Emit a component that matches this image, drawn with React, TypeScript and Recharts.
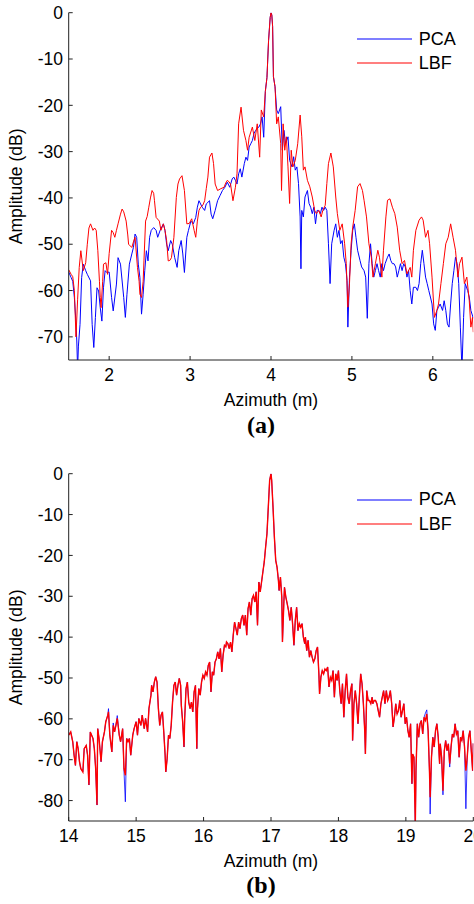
import React from 'react';
import { LineChart, Line, XAxis, YAxis, Legend } from 'recharts';

// ---------- panel (a) ----------
const PCA_A_AZ = [
  1.50, 1.53, 1.55, 1.57, 1.59, 1.60, 1.61, 1.62, 1.64, 1.66,
  1.68, 1.71, 1.73, 1.77, 1.79, 1.81, 1.83, 1.85, 1.87, 1.89,
  1.91, 1.93, 1.95, 1.97, 2.00, 2.03, 2.05, 2.09, 2.11, 2.14,
  2.18, 2.20, 2.22, 2.25, 2.28, 2.30, 2.32, 2.34, 2.36, 2.38,
  2.40, 2.42, 2.44, 2.46, 2.48, 2.50, 2.52, 2.55, 2.58, 2.60,
  2.63, 2.67, 2.69, 2.71, 2.73, 2.76, 2.78, 2.81, 2.84, 2.86,
  2.89, 2.91, 2.93, 2.96, 2.98, 3.01, 3.04, 3.07, 3.09, 3.11,
  3.15, 3.18, 3.20, 3.24, 3.26, 3.28, 3.31, 3.34, 3.37, 3.40,
  3.43, 3.46, 3.49, 3.52, 3.54, 3.56, 3.58, 3.60, 3.62, 3.64,
  3.67, 3.69, 3.71, 3.73, 3.75, 3.77, 3.79, 3.81, 3.83, 3.85,
  3.87, 3.89, 3.91, 3.93, 3.95, 3.97, 3.99, 4.00, 4.01, 4.02,
  4.03, 4.05, 4.07, 4.09, 4.12, 4.14, 4.16, 4.18, 4.21, 4.23,
  4.26, 4.28, 4.30, 4.32, 4.34, 4.36, 4.37, 4.38, 4.40, 4.42,
  4.45, 4.47, 4.49, 4.51, 4.53, 4.55, 4.57, 4.59, 4.61, 4.63,
  4.65, 4.67, 4.69, 4.71, 4.73, 4.75, 4.78, 4.80, 4.82, 4.84,
  4.86, 4.88, 4.90, 4.92, 4.94, 4.95, 4.97, 4.99, 5.01, 5.03,
  5.05, 5.07, 5.10, 5.12, 5.15, 5.17, 5.19, 5.21, 5.23, 5.25,
  5.27, 5.29, 5.31, 5.33, 5.35, 5.37, 5.39, 5.41, 5.44, 5.46,
  5.48, 5.50, 5.52, 5.54, 5.56, 5.58, 5.60, 5.62, 5.64, 5.66,
  5.68, 5.70, 5.72, 5.74, 5.76, 5.79, 5.81, 5.83, 5.85, 5.87,
  5.89, 5.91, 5.93, 5.95, 5.97, 5.99, 6.01, 6.03, 6.05, 6.07,
  6.09, 6.12, 6.14, 6.16, 6.18, 6.20, 6.22, 6.24, 6.26, 6.28,
  6.30, 6.32, 6.34, 6.36, 6.38, 6.40, 6.43, 6.45, 6.47, 6.50,
];
const PCA_A_DB = [
  -56, -57.2, -58, -61.5, -67, -70.9, -77, -72, -67.3, -57.2,
  -54.3, -55.7, -56.5, -57.9, -67.3, -72.3, -65.8, -59.4, -60.1, -63.7,
  -66.6, -59.4, -55.7, -56.1, -56, -61.5, -64.4, -58.6, -52.9, -54.3,
  -61.5, -65.8, -60.8, -54.3, -52.1, -50.7, -47.8, -48.5, -54.3, -57.2,
  -65.1, -60.8, -55.7, -51.4, -53.6, -48.5, -47, -46.4, -47, -48.5,
  -47, -45.6, -47, -50, -51.4, -49.2, -50, -52.9, -55, -51.4,
  -49.2, -52.1, -56.1, -48.5, -47, -45, -45.6, -44.2, -42, -40.6,
  -42, -42.7, -41.3, -40.6, -43.5, -44.5, -42.7, -40.6, -39.5, -38.4,
  -37.7, -36.6, -37.7, -35.9, -35.5, -36.2, -37, -34.8, -33.7, -35.5,
  -32.6, -31.2, -31.9, -29, -28.3, -27.6, -26.1, -25.4, -25, -24.7,
  -24, -22.5, -26.9, -17, -14, -6, -1, 0, -0.5, -3,
  -13.8, -16, -21, -21.8, -20.3, -29.7, -25.4, -28.3, -26.8, -31.9,
  -33.3, -31.1, -34, -33.3, -36.9, -44.1, -55.3, -42.7, -44.1, -39.8,
  -38.4, -41.2, -42, -43.4, -42, -45.6, -42.7, -42.7, -43.4, -42,
  -42.7, -42, -42.7, -49.9, -58.5, -49.9, -47, -45.6, -48.5, -47,
  -49.9, -49.2, -52.8, -54.2, -57.8, -67.9, -57.1, -51.3, -47, -45.6,
  -48.5, -51.3, -53.5, -54.9, -55.7, -57.1, -66, -54.2, -49.9, -54.2,
  -57.1, -55.7, -54.2, -55.7, -57.1, -54.2, -55.7, -54.2, -52.8, -52.1,
  -53.5, -54.2, -54.2, -54.9, -57.1, -55.7, -54.2, -55.7, -54.2, -54.9,
  -57.1, -55.7, -60, -62.9, -59.3, -59.3, -60, -58.5, -54.2, -51.3,
  -54.2, -57.1, -58.5, -60, -61.4, -62.9, -67.2, -68.6, -64.3, -63.6,
  -62.9, -64.3, -62.2, -64.3, -67.2, -67.9, -62.9, -58.5, -55.7, -52.8,
  -54.2, -58.5, -67.9, -77, -65.8, -58.5, -60, -61.4, -64.3, -66,
];
const LBF_A_AZ = [
  1.50, 1.53, 1.55, 1.57, 1.59, 1.61, 1.63, 1.65, 1.68, 1.71,
  1.73, 1.75, 1.77, 1.80, 1.82, 1.84, 1.86, 1.88, 1.89, 1.90,
  1.92, 1.93, 1.96, 1.98, 2.00, 2.03, 2.05, 2.07, 2.09, 2.11,
  2.14, 2.16, 2.18, 2.21, 2.23, 2.24, 2.28, 2.30, 2.32, 2.35,
  2.37, 2.38, 2.40, 2.42, 2.43, 2.45, 2.47, 2.49, 2.51, 2.53,
  2.55, 2.56, 2.58, 2.62, 2.64, 2.67, 2.69, 2.71, 2.73, 2.75,
  2.77, 2.80, 2.83, 2.85, 2.87, 2.90, 2.93, 2.96, 2.99, 3.02,
  3.05, 3.07, 3.09, 3.11, 3.13, 3.16, 3.18, 3.20, 3.22, 3.24,
  3.27, 3.29, 3.31, 3.34, 3.38, 3.42, 3.44, 3.46, 3.48, 3.50,
  3.53, 3.56, 3.58, 3.60, 3.63, 3.66, 3.69, 3.71, 3.73, 3.77,
  3.80, 3.83, 3.86, 3.88, 3.91, 3.93, 3.95, 3.97, 3.99, 4.00,
  4.01, 4.02, 4.03, 4.05, 4.07, 4.09, 4.12, 4.13, 4.15, 4.17,
  4.19, 4.21, 4.23, 4.25, 4.27, 4.30, 4.33, 4.36, 4.38, 4.40,
  4.42, 4.45, 4.48, 4.51, 4.54, 4.56, 4.59, 4.62, 4.64, 4.67,
  4.69, 4.71, 4.74, 4.77, 4.80, 4.82, 4.85, 4.88, 4.91, 4.93,
  4.95, 4.97, 4.99, 5.01, 5.04, 5.07, 5.10, 5.13, 5.15, 5.18,
  5.21, 5.24, 5.26, 5.29, 5.32, 5.34, 5.37, 5.39, 5.42, 5.44,
  5.47, 5.50, 5.53, 5.56, 5.59, 5.62, 5.65, 5.68, 5.72, 5.74,
  5.76, 5.79, 5.83, 5.86, 5.88, 5.91, 5.94, 5.96, 5.99, 6.02,
  6.05, 6.07, 6.10, 6.13, 6.16, 6.19, 6.22, 6.25, 6.28, 6.31,
  6.33, 6.36, 6.39, 6.42, 6.45, 6.47, 6.49, 6.50,
];
const LBF_A_DB = [
  -55.5, -56.5, -57, -60, -70, -62, -55, -51.4, -55.7, -54,
  -50, -46.5, -45.6, -47, -46.5, -47, -51.4, -58, -61.5, -63.7,
  -58, -54.3, -54, -56.5, -52, -47, -47.5, -48.5, -47, -45.6,
  -43.5, -42.4, -43, -45, -48, -50, -50.7, -49.5, -48.5, -55,
  -58, -60.8, -61.5, -58, -53.6, -45, -44, -42, -40, -38.4,
  -39, -40.6, -44.2, -45, -47, -45.6, -47, -49.2, -53.6, -53.5,
  -52.9, -48.5, -39.9, -37, -35.9, -35.2, -38.4, -45.6, -45.5, -44.5,
  -47, -48.5, -45, -42.7, -42, -41.5, -40.6, -38, -35.5, -31.2,
  -30.3, -32.6, -37, -38.4, -38, -37.7, -36.8, -36.2, -36.5, -37,
  -40.6, -37.7, -34.8, -24, -20.4, -25.4, -27.6, -29.7, -26.9, -24.7,
  -27.6, -24, -31.2, -21, -22.5, -17, -14, -6, -1, 0,
  -0.5, -3, -13.8, -16, -24, -22.5, -28.3, -38.4, -24, -29.7,
  -26.8, -33.3, -41.2, -29.7, -33.3, -31.9, -28.3, -22.1, -26.8, -34,
  -33.3, -36.2, -37.6, -39.8, -42.7, -43.4, -42.7, -44.1, -42.7, -41.6,
  -36.9, -32.6, -30.3, -33.3, -39.8, -43.4, -47, -45.6, -49.9, -54.2,
  -63.6, -58.5, -49.9, -46.3, -42.7, -37.6, -36.9, -38.4, -40.5, -44.1,
  -49.9, -52.8, -57.1, -54.2, -51.3, -52.8, -57.1, -51.3, -44.1, -40.5,
  -40.2, -42, -43.4, -46.3, -51.3, -54.2, -53.5, -56.4, -55, -57.1,
  -51.3, -47, -44.8, -44.1, -44.8, -48.5, -47, -49.9, -57.1, -65.8,
  -64.3, -62.9, -58.5, -54.2, -49.9, -48.5, -45.6, -48.5, -51.3, -57.1,
  -54.2, -52.8, -58.5, -57.1, -62.2, -67.9, -65.8, -69,
];

// ---------- panel (b) ----------
const B_AZ = [
  14.00, 14.03, 14.06, 14.08, 14.10, 14.12, 14.14, 14.16, 14.18, 14.21,
  14.23, 14.26, 14.28, 14.30, 14.32, 14.34, 14.36, 14.38, 14.40, 14.42,
  14.43, 14.45, 14.48, 14.50, 14.53, 14.55, 14.58, 14.59, 14.61, 14.64,
  14.66, 14.68, 14.70, 14.72, 14.75, 14.77, 14.80, 14.82, 14.84, 14.86,
  14.88, 14.90, 14.92, 14.95, 14.97, 15.00, 15.02, 15.04, 15.07, 15.09,
  15.12, 15.14, 15.17, 15.19, 15.22, 15.23, 15.25, 15.27, 15.29, 15.31,
  15.33, 15.35, 15.37, 15.39, 15.41, 15.43, 15.44, 15.46, 15.48, 15.50,
  15.52, 15.54, 15.56, 15.58, 15.60, 15.62, 15.64, 15.66, 15.67, 15.69,
  15.71, 15.72, 15.74, 15.76, 15.78, 15.80, 15.82, 15.84, 15.86, 15.88,
  15.90, 15.91, 15.93, 15.95, 15.97, 15.99, 16.01, 16.03, 16.05, 16.07,
  16.09, 16.11, 16.13, 16.15, 16.17, 16.19, 16.21, 16.23, 16.25, 16.27,
  16.29, 16.31, 16.33, 16.34, 16.36, 16.38, 16.40, 16.42, 16.44, 16.46,
  16.48, 16.50, 16.52, 16.54, 16.56, 16.58, 16.60, 16.62, 16.64, 16.66,
  16.68, 16.70, 16.72, 16.74, 16.76, 16.78, 16.80, 16.82, 16.84, 16.86,
  16.88, 16.90, 16.92, 16.94, 16.96, 16.98, 17.00, 17.01, 17.03, 17.05,
  17.07, 17.09, 17.11, 17.12, 17.14, 17.16, 17.17, 17.19, 17.20, 17.22,
  17.24, 17.26, 17.28, 17.30, 17.32, 17.34, 17.36, 17.38, 17.40, 17.42,
  17.44, 17.46, 17.48, 17.50, 17.51, 17.53, 17.55, 17.57, 17.59, 17.61,
  17.63, 17.65, 17.67, 17.69, 17.71, 17.72, 17.74, 17.76, 17.78, 17.80,
  17.82, 17.84, 17.86, 17.88, 17.90, 17.92, 17.94, 17.96, 17.98, 18.00,
  18.02, 18.04, 18.06, 18.08, 18.10, 18.12, 18.14, 18.16, 18.18, 18.20,
  18.21, 18.23, 18.25, 18.27, 18.29, 18.31, 18.33, 18.35, 18.37, 18.39,
  18.40, 18.42, 18.44, 18.46, 18.48, 18.50, 18.51, 18.53, 18.55, 18.57,
  18.59, 18.61, 18.63, 18.65, 18.67, 18.69, 18.71, 18.73, 18.75, 18.77,
  18.79, 18.81, 18.83, 18.85, 18.87, 18.89, 18.91, 18.93, 18.95, 18.97,
  18.99, 19.01, 19.03, 19.05, 19.07, 19.09, 19.10, 19.12, 19.14, 19.15,
  19.17, 19.19, 19.21, 19.23, 19.25, 19.27, 19.29, 19.31, 19.33, 19.35,
  19.36, 19.38, 19.40, 19.42, 19.44, 19.46, 19.48, 19.50, 19.51, 19.53,
  19.55, 19.57, 19.59, 19.61, 19.63, 19.65, 19.67, 19.69, 19.71, 19.73,
  19.75, 19.77, 19.79, 19.81, 19.83, 19.85, 19.87, 19.89, 19.91, 19.93,
  19.95, 19.97, 19.99, 20.00,
];
const LBF_B_DB = [
  -64, -63.2, -65.6, -68.9, -71.4, -65.6, -67.3, -70.5, -72.2, -73,
  -67.3, -66.5, -68.9, -76.2, -63.2, -64, -64.8, -67.3, -72.2, -81.1,
  -62.4, -64.8, -70.5, -65.6, -63.2, -60.7, -59.1, -58.3, -64, -68.1,
  -61.6, -63.2, -61.6, -59.9, -64, -65.6, -62.4, -72.2, -73.8, -64.8,
  -65.6, -64.8, -68.9, -64, -62.4, -60.7, -64, -59.9, -61.6, -59.1,
  -62.4, -59.9, -63.2, -57.5, -54.2, -51.8, -53.4, -51, -49.7, -51,
  -57.5, -61.6, -59.1, -58.3, -63.2, -68.9, -73, -69.7, -64, -64.8,
  -61.6, -55.9, -51.8, -51, -54.2, -51.8, -50.1, -51.8, -56.7, -60.7,
  -66.9, -59.9, -52.6, -51, -55.9, -57.5, -55.9, -58.3, -53.4, -51.8,
  -67.3, -57.5, -52.6, -54.2, -51, -49.3, -50.1, -48.5, -49.3, -46.9,
  -46.1, -53.4, -48.5, -49.3, -46.1, -45.3, -43.6, -45.3, -42.8, -48.5,
  -44.4, -42, -42.4, -41.2, -41.6, -42.8, -41.2, -43.6, -39.5, -36.3,
  -37.9, -39.5, -36.3, -37.9, -35.5, -34.6, -37.1, -34.6, -39.5, -33,
  -31.4, -34.6, -30.6, -29.8, -31.4, -28.9, -37.1, -26.5, -28.9, -26.5,
  -24, -21.6, -18, -14.7, -8.2, -1.6, 0, -1.6, -8.2, -15.5,
  -21.2, -22.9, -26.1, -28.6, -25.3, -30.2, -41.2, -31.8, -27.8, -30.2,
  -31.8, -33.5, -35.9, -32.7, -36.7, -42, -35.9, -32.7, -38.4, -36.7,
  -37.6, -36.7, -40, -41.6, -40, -43.3, -40.8, -44.9, -43.3, -44.9,
  -46.1, -45.3, -43.3, -42.4, -49, -53.9, -49.8, -48.2, -49, -47.8,
  -48.2, -47.3, -52.2, -49.8, -50.6, -48.2, -54.7, -49, -50.6, -48.2,
  -53.1, -56.3, -51.4, -59.6, -53.1, -49, -54.7, -56.3, -53.1, -51.4,
  -65.3, -56.3, -53.1, -56.3, -61.2, -54.7, -49, -51.4, -56.3, -62.9,
  -68.6, -53.1, -55.5, -55.5, -56.3, -54.7, -56.3, -55.5, -55.5, -56.3,
  -58, -59.6, -56.3, -54.7, -53.1, -56.3, -53.1, -55.5, -54.7, -53.1,
  -56.3, -62, -59.6, -56.3, -58.8, -58, -55.5, -59.6, -58, -56.3,
  -61.2, -59.6, -62.9, -64.5, -61.2, -75.9, -68.6, -69.4, -86, -72.7,
  -61.2, -64.5, -61.2, -60.4, -63.7, -59.6, -60.4, -58.8, -62.9, -72.7,
  -79.2, -69.4, -64.5, -66.9, -62.9, -61.2, -64.5, -71, -66.1, -69.4,
  -77.6, -67.8, -65.3, -67.8, -66.1, -71, -66.9, -63.7, -64.5, -61.2,
  -63.7, -62.9, -69.4, -64.5, -65.3, -62.9, -66.9, -72.7, -69.4, -64.5,
  -62.9, -67.8, -72.7, -66,
];
const PCA_B_DB = [
  -64, -63.2, -65.6, -68.9, -71.4, -65.6, -67.3, -70.5, -72.2, -73,
  -67.3, -66.5, -68.9, -76.2, -63.2, -64, -64.8, -67.3, -72.2, -81.1,
  -62.4, -64.8, -70.5, -65.6, -63.2, -60.7, -59.1, -57.5, -64, -68.1,
  -61, -63.2, -61.6, -59.2, -64, -65.6, -62.4, -72.8, -80.3, -64.8,
  -65.6, -64.8, -68.9, -64, -62.4, -60.7, -64, -59.9, -61.6, -59.1,
  -62.4, -59.9, -63.2, -57.5, -54.2, -51.8, -53.4, -51, -49.7, -51,
  -57.5, -61.6, -59.1, -58.3, -63.2, -68.9, -73, -69.7, -64, -64.8,
  -61.6, -55.9, -51.8, -51, -54.2, -51.8, -50.1, -51.8, -56.7, -60.7,
  -66.9, -59.9, -52.6, -51, -55.9, -57.5, -55.9, -58.3, -53.4, -51.8,
  -67.3, -57.5, -52.6, -54.2, -51, -49.3, -50.1, -48.5, -49.3, -46.9,
  -46.1, -53.4, -48.5, -49.3, -46.1, -45.3, -43.6, -45.3, -42.8, -48.5,
  -44.4, -42, -42.4, -41.2, -41.6, -42.8, -41.2, -43.6, -39.5, -36.3,
  -37.9, -39.5, -36.3, -37.9, -35.5, -34.6, -37.1, -34.6, -39.5, -33,
  -31.4, -34.6, -30.6, -29.8, -31.4, -28.9, -37.1, -26.5, -28.9, -26.5,
  -24, -21.6, -18, -14.7, -8.2, -1.6, 0, -1.6, -8.2, -15.5,
  -21.2, -22.9, -26.1, -28.6, -25.3, -30.2, -41.2, -31.8, -27.8, -30.2,
  -31.8, -33.5, -35.9, -32.7, -36.7, -42, -35.9, -32.7, -38.4, -36.7,
  -37.6, -36.7, -40, -41.6, -40, -43.3, -40.8, -44.9, -43.3, -44.9,
  -46.1, -45.3, -43.3, -42.4, -49, -53.9, -49.8, -48.2, -49, -47.8,
  -48.2, -47.3, -52.2, -49.8, -50.6, -48.2, -54.7, -49, -50.6, -48.2,
  -53.1, -56.3, -51.4, -59.6, -53.1, -49, -54.7, -56.3, -53.1, -51.4,
  -65.3, -56.3, -53.1, -56.3, -61.2, -54.7, -49, -51.4, -56.3, -62.9,
  -68.6, -53.1, -55.5, -55.5, -56.3, -54.7, -56.3, -55.5, -55.5, -56.3,
  -58, -59.6, -56.3, -54.7, -53.1, -56.3, -53.1, -55.5, -54.7, -53.1,
  -56.3, -62, -59.6, -56.3, -58.8, -58, -55.5, -59.6, -58, -56.3,
  -61.2, -59.6, -62.9, -64.5, -61.2, -75.9, -68.6, -69.4, -86, -72.7,
  -61.2, -64.5, -61.2, -60.4, -63.7, -59.6, -58.6, -57.8, -62.9, -72.7,
  -83.3, -69.4, -64.5, -66.9, -62.9, -61.2, -64.5, -71, -66.1, -69.4,
  -78.6, -67.8, -65.3, -67.8, -66.1, -71.8, -66.9, -63.7, -64.5, -61.2,
  -63.7, -62.9, -69.4, -64.5, -65.3, -62.9, -66.9, -82, -69.4, -64.5,
  -62.9, -67.8, -72.7, -66,
];

// ---------- axes ----------
const A_AZ_DOMAIN = [1.5, 6.5];
const A_DB_DOMAIN = [-75, 0];
const A_AZ_TICKS = [2, 3, 4, 5, 6];
const A_DB_TICKS = [-70, -60, -50, -40, -30, -20, -10, 0];
const B_AZ_DOMAIN = [14, 20];
const B_DB_DOMAIN = [-85, 0];
const B_AZ_TICKS = [14, 15, 16, 17, 18, 19, 20];
const B_DB_TICKS = [-80, -70, -60, -50, -40, -30, -20, -10, 0];

const SERIES = [
  { name: 'PCA', color: '#0000ff' },
  { name: 'LBF', color: '#ff0000' },
];
const X_TITLE = 'Azimuth (m)';
const Y_TITLE = 'Amplitude (dB)';

const FONT = "'Liberation Sans', Arial, Helvetica, sans-serif";
const SERIF = "'Liberation Serif', 'Times New Roman', serif";
const FS = 17.5;
const AXIS = '#222222';
const TEXT = '#000000';

const toPoints = (az: number[], db: number[]) => az.map((x, i) => ({ x, y: db[i] }));

const LegendContent = () => (
  <div style={{ fontFamily: FONT, fontSize: 18, color: TEXT }}>
    {SERIES.map((s) => (
      <div key={s.name} style={{ display: 'flex', alignItems: 'center', height: 24.3, lineHeight: '24.3px' }}>
        <svg width={55} height={6} style={{ display: 'block' }}>
          <line x1={0} y1={3} x2={55} y2={3} stroke={s.color} strokeWidth={1.2} />
        </svg>
        <span style={{ marginLeft: 7, whiteSpace: 'nowrap' }}>{s.name}</span>
      </div>
    ))}
  </div>
);

function Panel(props: any) {
  const { top, xDomain, yDomain, xTicks, yTicks, pca, lbf, pcaWidth, lbfWidth } = props;
  const tickStyle = { fill: TEXT, fontSize: FS, fontFamily: FONT };
  return (
    <div style={{ position: 'absolute', left: 0, top, width: 474, height: 440 }}>
      <LineChart width={474} height={440} margin={{ top: 12.7, right: 0.7, bottom: 0, left: 0 }}>
        <XAxis
          xAxisId="bottom"
          type="number"
          dataKey="x"
          domain={xDomain}
          ticks={xTicks}
          interval={0}
          allowDataOverflow
          height={80}
          stroke={AXIS}
          tickSize={-4}
          tickMargin={13}
          tick={tickStyle}
          label={{ value: X_TITLE, position: 'insideTop', offset: 33.6, fill: TEXT, fontSize: FS, fontFamily: FONT }}
        />
        <XAxis
          xAxisId="top"
          orientation="top"
          type="number"
          dataKey="x"
          domain={xDomain}
          ticks={xTicks}
          interval={0}
          allowDataOverflow
          height={0}
          stroke={AXIS}
          tickSize={-4}
          tick={false}
        />
        <YAxis
          yAxisId="left"
          type="number"
          domain={yDomain}
          ticks={yTicks}
          interval={0}
          allowDataOverflow
          width={68.7}
          stroke={AXIS}
          tickSize={-4}
          tickMargin={9.7}
          tick={tickStyle}
          label={{
            value: Y_TITLE,
            angle: -90,
            position: 'insideLeft',
            offset: 15.5,
            fill: TEXT,
            fontSize: FS,
            fontFamily: FONT,
            style: { textAnchor: 'middle' },
          }}
        />
        <YAxis
          yAxisId="right"
          orientation="right"
          type="number"
          domain={yDomain}
          ticks={yTicks}
          interval={0}
          allowDataOverflow
          width={0}
          stroke={AXIS}
          tickSize={-4}
          tick={false}
        />
        <Line
          xAxisId="bottom"
          yAxisId="left"
          data={pca}
          dataKey="y"
          name={SERIES[0].name}
          stroke={SERIES[0].color}
          strokeWidth={pcaWidth}
          dot={false}
          activeDot={false}
          isAnimationActive={false}
        />
        <Line
          xAxisId="bottom"
          yAxisId="left"
          data={lbf}
          dataKey="y"
          name={SERIES[1].name}
          stroke={SERIES[1].color}
          strokeWidth={lbfWidth}
          dot={false}
          activeDot={false}
          isAnimationActive={false}
        />
        <Legend
          layout="horizontal"
          verticalAlign="middle"
          align="center"
          content={LegendContent}
          wrapperStyle={{ left: 356.7, top: 26.9, width: 'auto', height: 'auto' }}
        />
      </LineChart>
    </div>
  );
}

const Caption = ({ text, top }: { text: string; top: number }) => (
  <div
    style={{
      position: 'absolute',
      left: 0,
      width: 522,
      top,
      textAlign: 'center',
      fontFamily: SERIF,
      fontWeight: 'bold',
      fontSize: 24,
      lineHeight: '24px',
      color: TEXT,
    }}
  >
    {text}
  </div>
);

export default function App() {
  return (
    <div style={{ position: 'absolute', left: 0, top: 0, width: 474, height: 904, background: '#fff', overflow: 'hidden', fontFamily: FONT }}>
      <Panel
        top={0}
        xDomain={A_AZ_DOMAIN}
        yDomain={A_DB_DOMAIN}
        xTicks={A_AZ_TICKS}
        yTicks={A_DB_TICKS}
        pca={toPoints(PCA_A_AZ, PCA_A_DB)}
        lbf={toPoints(LBF_A_AZ, LBF_A_DB)}
        pcaWidth={1}
        lbfWidth={1}
      />
      <Caption text="(a)" top={413} />
      <Panel
        top={460.6}
        xDomain={B_AZ_DOMAIN}
        yDomain={B_DB_DOMAIN}
        xTicks={B_AZ_TICKS}
        yTicks={B_DB_TICKS}
        pca={toPoints(B_AZ, PCA_B_DB)}
        lbf={toPoints(B_AZ, LBF_B_DB)}
        pcaWidth={0.8}
        lbfWidth={1.4}
      />
      <Caption text="(b)" top={873} />
    </div>
  );
}
